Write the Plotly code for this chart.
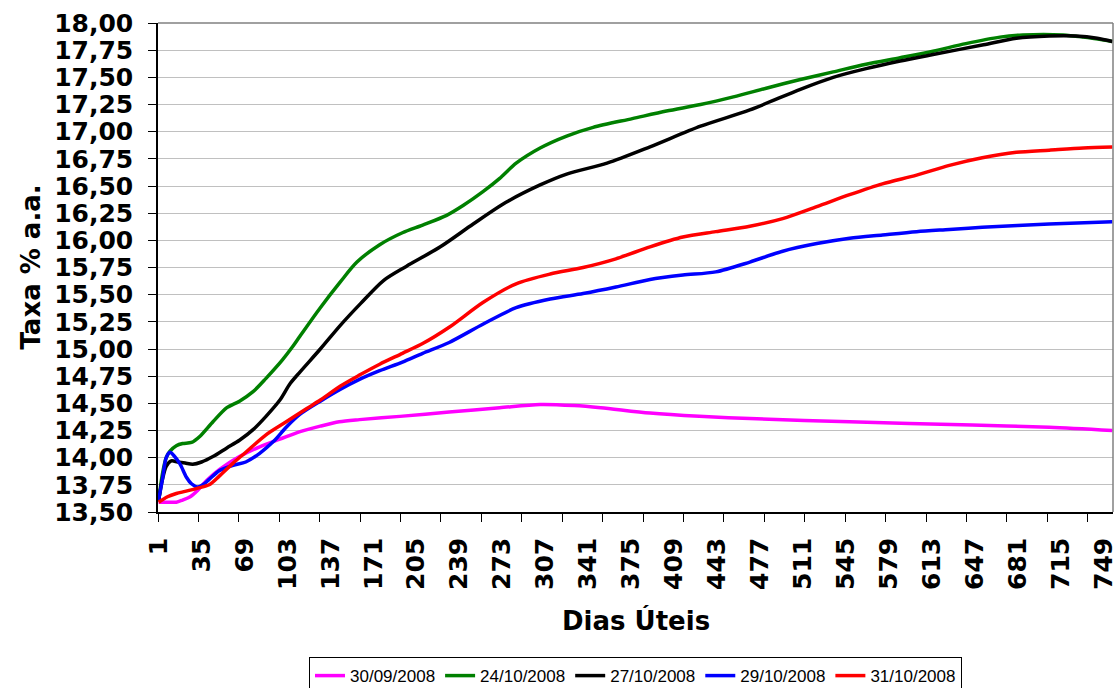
import plotly.graph_objects as go

# ---- data ----
series_names = ["30/09/2008", "24/10/2008", "27/10/2008", "29/10/2008", "31/10/2008"]
series_colors = ["#FF00FF", "#008000", "#000000", "#0000FF", "#FF0000"]

x_0930 = [1, 10, 15, 20, 26, 32, 39, 49, 65, 81, 97, 113, 129, 144, 160, 192, 231, 271, 303, 330, 351, 390, 429, 469, 548, 645, 706, 756]
y_0930 = [13.59, 13.59, 13.59, 13.61, 13.64, 13.70, 13.79, 13.89, 14.01, 14.10, 14.17, 14.24, 14.29, 14.33, 14.35, 14.38, 14.42, 14.46, 14.49, 14.48, 14.46, 14.41, 14.38, 14.36, 14.33, 14.30, 14.28, 14.25]

x_1024 = [1, 4, 7, 10, 15, 20, 27, 34, 44, 55, 65, 76, 86, 99, 107, 113, 129, 145, 158, 176, 194, 210, 229, 242, 258, 271, 284, 303, 324, 345, 376, 403, 430, 456, 482, 509, 535, 561, 588, 614, 640, 667, 685, 717, 733, 756]
y_1024 = [13.60, 13.85, 14.00, 14.06, 14.11, 14.13, 14.14, 14.20, 14.33, 14.46, 14.52, 14.61, 14.73, 14.90, 15.02, 15.12, 15.38, 15.62, 15.80, 15.96, 16.07, 16.14, 16.23, 16.32, 16.45, 16.57, 16.71, 16.85, 16.96, 17.04, 17.12, 17.19, 17.25, 17.32, 17.40, 17.48, 17.55, 17.62, 17.68, 17.74, 17.81, 17.87, 17.89, 17.89, 17.87, 17.83]

x_1027 = [1, 4, 7, 11, 16, 22, 28, 35, 44, 55, 65, 76, 86, 97, 105, 113, 129, 145, 161, 179, 197, 224, 250, 276, 303, 324, 356, 390, 430, 469, 509, 535, 561, 588, 614, 654, 680, 706, 727, 744, 756]
y_1027 = [13.61, 13.80, 13.92, 13.97, 13.96, 13.95, 13.94, 13.96, 14.01, 14.09, 14.16, 14.26, 14.38, 14.53, 14.68, 14.79, 15.00, 15.22, 15.42, 15.63, 15.76, 15.94, 16.15, 16.35, 16.51, 16.61, 16.71, 16.86, 17.05, 17.20, 17.39, 17.50, 17.58, 17.65, 17.71, 17.80, 17.86, 17.88, 17.88, 17.86, 17.83]

x_1029 = [1, 4, 7, 10, 13, 18, 23, 27, 32, 36, 41, 49, 60, 70, 81, 92, 102, 113, 129, 145, 160, 176, 194, 210, 231, 258, 284, 311, 337, 363, 390, 416, 442, 469, 495, 522, 548, 574, 601, 627, 653, 706, 756]
y_1029 = [13.61, 13.80, 14.00, 14.05, 14.02, 13.94, 13.82, 13.76, 13.73, 13.75, 13.80, 13.88, 13.93, 13.96, 14.04, 14.15, 14.28, 14.40, 14.52, 14.63, 14.72, 14.80, 14.88, 14.96, 15.06, 15.23, 15.38, 15.46, 15.51, 15.57, 15.64, 15.68, 15.71, 15.80, 15.90, 15.97, 16.02, 16.05, 16.08, 16.10, 16.12, 16.15, 16.17]

x_1031 = [1, 8, 15, 22, 32, 41, 49, 60, 70, 86, 102, 118, 129, 145, 160, 176, 194, 210, 231, 258, 284, 311, 337, 363, 390, 416, 442, 469, 495, 522, 548, 574, 601, 627, 653, 680, 706, 733, 756]
y_1031 = [13.59, 13.64, 13.67, 13.69, 13.72, 13.75, 13.83, 13.95, 14.05, 14.21, 14.33, 14.45, 14.53, 14.66, 14.76, 14.86, 14.96, 15.05, 15.20, 15.43, 15.60, 15.69, 15.75, 15.83, 15.94, 16.03, 16.08, 16.13, 16.20, 16.31, 16.42, 16.52, 16.60, 16.69, 16.76, 16.81, 16.83, 16.85, 16.86]

x_tick_labels = [1, 35, 69, 103, 137, 171, 205, 239, 273, 307, 341, 375, 409, 443, 477, 511, 545, 579, 613, 647, 681, 715, 749]

xs = [x_0930, x_1024, x_1027, x_1029, x_1031]
ys = [y_0930, y_1024, y_1027, y_1029, y_1031]

FONT = "DejaVu Sans"

fig = go.Figure()
for name, color, xv, yv in zip(series_names, series_colors, xs, ys):
    fig.add_trace(go.Scatter(
        x=xv, y=yv, name=name, mode="lines",
        line=dict(color=color, width=3.5, shape="spline", smoothing=0.8),
    ))

fig.update_layout(
    width=1117, height=688, autosize=False,
    margin=dict(l=158, r=4, t=23, b=176),
    paper_bgcolor="white", plot_bgcolor="white",
    separators=",.",
    showlegend=True,
    legend=dict(
        orientation="h", x=0.5, xanchor="center",
        yref="container", y=0.045, yanchor="top",
        font=dict(family="Liberation Sans, Arial", size=17, color="black"),
        bordercolor="black", borderwidth=1, bgcolor="white",
        itemwidth=30, tracegroupgap=0,
    ),
    xaxis=dict(
        range=[0.5, 756.5], automargin=False,
        tickmode="array", tickvals=x_tick_labels, ticktext=[str(v) for v in x_tick_labels],
        tickangle=-90, ticklabeloverflow="allow",
        ticks="outside", ticklen=8, tickcolor="rgba(0,0,0,0)",
        tickfont=dict(family=FONT, size=25, color="black", weight="bold"),
        ticklabelstandoff=6,
        minor=dict(tick0=0.5, dtick=32, ticks="outside", ticklen=8, tickcolor="black", tickwidth=1, showgrid=False),
        showgrid=False, zeroline=False,
        showline=True, linecolor="black", linewidth=1.5,
    ),
    yaxis=dict(
        range=[13.5, 18.0], automargin=False,
        tickmode="linear", tick0=13.5, dtick=0.25, tickformat=".2f",
        ticks="outside", ticklen=8, tickcolor="black", tickwidth=1,
        tickfont=dict(family=FONT, size=25, color="black", weight="bold"),
        ticklabelstandoff=10, ticklabeloverflow="allow",
        showgrid=True, gridcolor="#c0c0c0", gridwidth=1,
        zeroline=False,
        showline=True, linecolor="black", linewidth=1.5,
    ),
    shapes=[
        dict(type="line", xref="paper", yref="paper", x0=0, x1=1, y0=1, y1=1, line=dict(color="#808080", width=1.5)),
        dict(type="line", xref="paper", yref="paper", x0=1, x1=1, y0=0, y1=1, line=dict(color="#808080", width=1.5)),
    ],
    annotations=[
        dict(text="Taxa % a.a.", xref="paper", yref="paper", x=-0.134, y=0.5,
             xanchor="center", yanchor="middle", textangle=-90, showarrow=False,
             font=dict(family=FONT, size=26, color="black", weight="bold")),
        dict(text="Dias Úteis", xref="paper", yref="paper", x=0.5, y=-0.221,
             xanchor="center", yanchor="middle", showarrow=False,
             font=dict(family=FONT, size=26, color="black", weight="bold")),
    ],
)

fig.write_html(
    "out.html",
    config={"displayModeBar": False},
    post_script="document.body.style.margin='0';document.body.style.overflow='hidden';",
)
